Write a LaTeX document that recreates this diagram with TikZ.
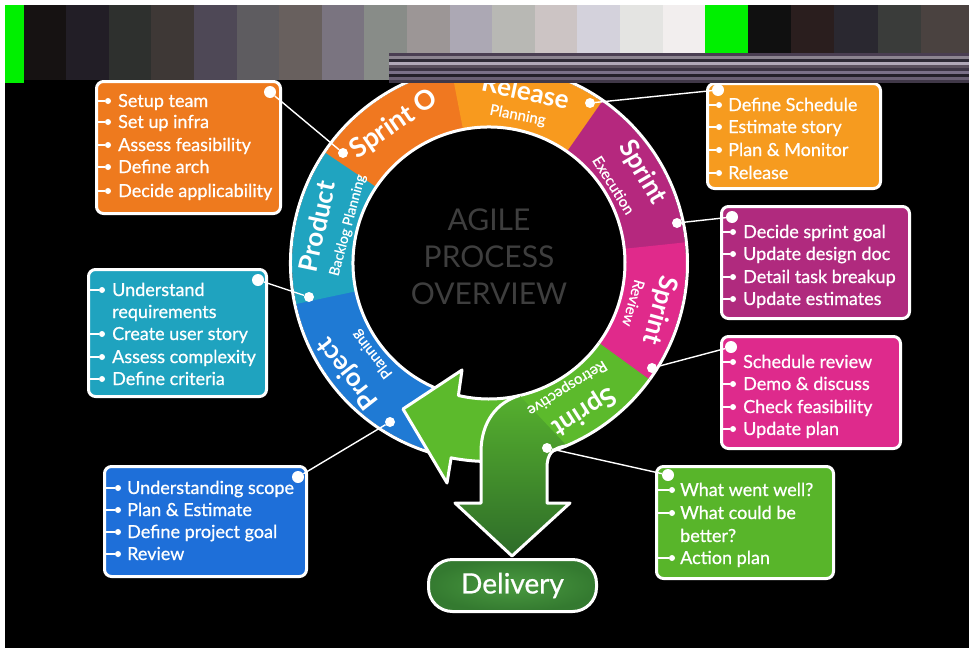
\documentclass[tikz,border=0pt]{standalone}
\usepackage{fontspec}
\setmainfont{Lato}
\newfontfamily\itemfont[FakeBold=0.7]{Lato}
\usetikzlibrary{calc}
\definecolor{cSzero}{HTML}{F07820}
\definecolor{cRel}{HTML}{F89A1E}
\definecolor{cExe}{HTML}{B5287E}
\definecolor{cRev}{HTML}{E02A8B}
\definecolor{cRet}{HTML}{5CBA2C}
\definecolor{cPrj}{HTML}{1F7AD4}
\definecolor{cPrd}{HTML}{20A4C0}
\definecolor{colA}{HTML}{EE7A1E}
\definecolor{colB}{HTML}{F69B1F}
\definecolor{colC}{HTML}{B02A7E}
\definecolor{colD}{HTML}{1FA3BF}
\definecolor{colE}{HTML}{DE2A8C}
\definecolor{colF}{HTML}{1E6FD9}
\definecolor{colG}{HTML}{58B52A}
\definecolor{dgTop}{HTML}{56B02E}
\definecolor{dgBot}{HTML}{2E6C29}
\definecolor{delIn}{HTML}{4A9A40}
\definecolor{delOut}{HTML}{347A30}
\definecolor{glGreen}{HTML}{00F000}
\definecolor{agileGrey}{HTML}{3E3E3E}
\newcommand{\ringseg}[3]{\fill[#3] ($(C)+(#1:197)$) arc[start angle=#1, end angle=#2, radius=197] -- ($(C)+(#2:137)$) arc[start angle=#2, end angle=#1, radius=137] -- cycle;}
\begin{document}
\begin{tikzpicture}[x=1pt,y=-1pt,
 boxst/.style={draw=white, line width=3pt, rounded corners=7pt, inner sep=0pt},
 item/.style={text=white, font=\itemfont\fontsize{18}{20}\selectfont, anchor=base west, inner sep=0pt},
 bdot/.style={circle, fill=white, inner sep=0pt, minimum size=6pt},
 bline/.style={draw=white, line width=1.3pt},
 cdot/.style={circle, fill=white, inner sep=0pt, minimum size=12pt},
 rdot/.style={circle, fill=white, inner sep=0pt, minimum size=10pt},
 conn/.style={draw=white, line width=1.4pt},
 mainlbl/.style={text=white, font=\bfseries\fontsize{26}{28}\selectfont, inner sep=0pt},
 sublbl/.style={text=white, font=\itemfont\fontsize{15}{16}\selectfont, inner sep=0pt},
]
\useasboundingbox (0,0) rectangle (969,656);
\fill[white] (0,0) rectangle (969,656);
\fill[black] (5,53) rectangle (969,648);
\coordinate (C) at (489,263);

% ring segments
\ringseg{100}{168.5}{cPrj}
\ringseg{168}{214.5}{cPrd}
\ringseg{214}{259.5}{cSzero}
\ringseg{259}{305.5}{cRel}
\ringseg{305}{354.5}{cExe}
\ringseg{354}{397}{cRev}
\draw[white, line width=3pt] ($(C)+(103:198.5)$) arc[start angle=103, end angle=396, radius=198.5];
\draw[white, line width=3pt] ($(C)+(103:136)$) arc[start angle=103, end angle=396, radius=136];

% light green band with arrow head
\filldraw[fill=cRet, draw=white, line width=3pt, line join=round]
  ($(C)+(36:198.5)$) arc[start angle=36, end angle=101, radius=198.5]
  -- (447,483) -- (403,409) -- (462,370) -- ($(C)+(103:136)$)
  arc[start angle=103, end angle=36, radius=136];

% dark green down arrow
\shade[top color=dgTop, bottom color=dgBot]
  ($(C)+(77:136)$) .. controls (497,402) and (481,422) .. (481,452) -- (481,503) -- (455,503) -- (512,556) -- (570,503) -- (547,503) -- (547,468) .. controls (547,453) and (553,448) .. ($(C)+(67:198.5)$) -- cycle;
\draw[white, line width=3pt, line join=round]
  ($(C)+(77:136)$) .. controls (497,402) and (481,422) .. (481,452) -- (481,503) -- (455,503) -- (512,556) -- (570,503) -- (547,503) -- (547,468) .. controls (547,453) and (553,448) .. ($(C)+(67:198.5)$);

% centre title
\node[text=agileGrey, align=center, font=\fontsize{30}{37}\selectfont] (title) at (489,257) {AGILE\\PROCESS\\OVERVIEW};

% ring labels
\node[mainlbl, rotate=34.4, font=\bfseries\fontsize{27}{28}\selectfont] (lS0) at ($(C)+(235.6:168)$) {Sprint O};
\node[mainlbl, rotate=-12] (lRel) at ($(C)+(282:176)$) {Release};
\node[sublbl, rotate=-11] (lRelS) at ($(C)+(281:150)$) {Planning};
\node[mainlbl, rotate=-59.5] (lExe) at ($(C)+(329.5:178)$) {Sprint};
\node[sublbl, rotate=-58] (lExeS) at ($(C)+(328:147)$) {Execution};
\node[mainlbl, rotate=-105.5] (lRev) at ($(C)+(15.5:177)$) {Sprint};
\node[sublbl, rotate=-105.5] (lRevS) at ($(C)+(15.5:150)$) {Review};
\node[mainlbl, rotate=-147.5] (lRet) at ($(C)+(57.4:176)$) {Sprint};
\node[sublbl, rotate=-148] (lRetS) at ($(C)+(58:147)$) {Retrospective};
\node[mainlbl, rotate=128] (lPrj) at ($(C)+(142:179)$) {Project};
\node[sublbl, rotate=128] (lPrjS) at ($(C)+(142:148)$) {Planning};
\node[mainlbl, rotate=78] (lPrd) at ($(C)+(192:176)$) {Product};
\node[sublbl, rotate=75, font=\itemfont\fontsize{14}{15}\selectfont] (lPrdS) at ($(C)+(195:146)$) {Backlog Planning};

% ring dots
\node[rdot] (dS0) at (343,153) {};
\node[rdot] (dRel) at (590,103) {};
\node[rdot] (dExe) at (677,223) {};
\node[rdot] (dRev) at (652,368) {};
\node[rdot] (dRet) at (547,448) {};
\node[rdot] (dPrj) at (390,422) {};
\node[rdot] (dPrd) at (309,297) {};

% boxes
\node[boxst, fill=colA, minimum width=184pt, minimum height=132pt] (bxA) at (188.5,147.5) {};
\node[boxst, fill=colB, minimum width=173pt, minimum height=105pt] (bxB) at (794,136) {};
\node[boxst, fill=colC, minimum width=188pt, minimum height=112pt] (bxC) at (815.5,262.5) {};
\node[boxst, fill=colD, minimum width=178pt, minimum height=127pt] (bxD) at (177.5,333) {};
\node[boxst, fill=colE, minimum width=179pt, minimum height=112pt] (bxE) at (811,392.5) {};
\node[boxst, fill=colF, minimum width=202pt, minimum height=110pt] (bxF) at (205.5,521.5) {};
\node[boxst, fill=colG, minimum width=177pt, minimum height=112pt] (bxG) at (745,522.5) {};

% box connector dots
\node[cdot] (cA) at (270,92) {};
\node[cdot] (cB) at (718,90) {};
\node[cdot] (cC) at (732,217) {};
\node[cdot] (cD) at (258,280) {};
\node[cdot] (cE) at (731,347) {};
\node[cdot] (cF) at (298,477) {};
\node[cdot] (cG) at (668,475) {};

% connectors
\draw[conn] (dS0) -- (cA);
\draw[conn] (dRel) -- (cB);
\draw[conn] (dExe) -- (cC);
\draw[conn] (dPrd) -- (cD);
\draw[conn] (dRev) -- (cE);
\draw[conn] (dPrj) -- (cF);
\draw[conn] (dRet) -- (cG);

% box A items
\foreach \yy [count=\i] in {101,122,145,167,191}{
  \node[bdot] (Ab\i) at (108,\yy) {};
  \draw[bline] (bxA.west |- Ab\i) -- (Ab\i);
}
\foreach \yy/\txt [count=\i] in {101/Setup team,122/Set up infra,145/Assess feasibility,167/Define arch,191/Decide applicability}{
  \node[item] (At\i) at (118,\yy+6) {\txt};
}
% box B items
\foreach \yy [count=\i] in {105,127,150,173}{
  \node[bdot] (Bb\i) at (719,\yy) {};
  \draw[bline] (bxB.west |- Bb\i) -- (Bb\i);
}
\foreach \yy/\txt [count=\i] in {105/Define Schedule,127/Estimate story,150/Plan \& Monitor,173/Release}{
  \node[item] (Bt\i) at (728,\yy+6) {\txt};
}
% box C items
\foreach \yy [count=\i] in {232,254,277,299}{
  \node[bdot] (Cb\i) at (733,\yy) {};
  \draw[bline] (bxC.west |- Cb\i) -- (Cb\i);
}
\foreach \yy/\txt [count=\i] in {232/Decide sprint goal,254/Update design doc,277/Detail task breakup,299/Update estimates}{
  \node[item] (Ct\i) at (743,\yy+6) {\txt};
}
% box D items
\foreach \yy [count=\i] in {290,334,357,379}{
  \node[bdot] (Db\i) at (102,\yy) {};
  \draw[bline] (bxD.west |- Db\i) -- (Db\i);
}
\foreach \yy/\txt [count=\i] in {290/Understand,312/requirements,334/Create user story,357/Assess complexity,379/Define criteria}{
  \node[item] (Dt\i) at (112,\yy+6) {\txt};
}
% box E items
\foreach \yy [count=\i] in {362,384,407,429}{
  \node[bdot] (Eb\i) at (733,\yy) {};
  \draw[bline] (bxE.west |- Eb\i) -- (Eb\i);
}
\foreach \yy/\txt [count=\i] in {362/Schedule review,384/Demo \& discuss,407/Check feasibility,429/Update plan}{
  \node[item] (Et\i) at (743,\yy+6) {\txt};
}
% box F items
\foreach \yy [count=\i] in {488,510,532,554}{
  \node[bdot] (Fb\i) at (118,\yy) {};
  \draw[bline] (bxF.west |- Fb\i) -- (Fb\i);
}
\foreach \yy/\txt [count=\i] in {488/Understanding scope,510/Plan \& Estimate,532/Define project goal,554/Review}{
  \node[item] (Ft\i) at (127,\yy+6) {\txt};
}
% box G items
\foreach \yy [count=\i] in {490,513,558}{
  \node[bdot] (Gb\i) at (672,\yy) {};
  \draw[bline] (bxG.west |- Gb\i) -- (Gb\i);
}
\foreach \yy/\txt [count=\i] in {490/What went well?,513/What could be,536/better?,558/Action plan}{
  \node[item] (Gt\i) at (680,\yy+6) {\txt};
}

% delivery
\node[draw=white, line width=3pt, rounded corners=24pt, shade, inner color=delIn, outer color=delOut, minimum width=168pt, minimum height=52pt, text=white, font=\itemfont\fontsize{28}{30}\selectfont] (del) at (512.5,585.5) {Delivery};

% top glitch band
\foreach \c [count=\i from 0] in {161212,221E26,2E302E,3E3836,4E4856,5E5C60,68605E,7A7480,888C88,9C9696,ACA8B4,B8B8B4,CCC4C4,D4D2DC,E4E4E2,F2EEEE}{
  \definecolor{tmpc}{HTML}{\c}
  \pgfmathsetmacro{\xa}{23.5+42.6*\i}
  \pgfmathsetmacro{\xb}{\xa+43}
  \pgfmathsetmacro{\yb}{ifthenelse(\i<9,80,53)}
  \fill[tmpc] (\xa,5) rectangle (\xb,\yb);
}
\fill[glGreen] (5,5) rectangle (23.5,83);
\fill[glGreen] (705,5) rectangle (748,53);
\foreach \c [count=\i from 0] in {101010,2A1E1E,2A2830,3A3C3A,4A4240,4A4240}{
  \definecolor{tmpc}{HTML}{\c}
  \pgfmathsetmacro{\xa}{748+43.2*\i}
  \pgfmathsetmacro{\xb}{min(\xa+43.5,969)}
  \fill[tmpc] (\xa,5) rectangle (\xb,53);
}
\foreach \c [count=\i from 0] in {4A3E52,8C8490,2E2A36,B0A8B8,5A505E,3C3444,7A7088,24202A,6A6074,403848}{
  \definecolor{tmpc}{HTML}{\c}
  \fill[tmpc] (389,53+3*\i) rectangle (969,56+3*\i);
}
\end{tikzpicture}
\end{document}
